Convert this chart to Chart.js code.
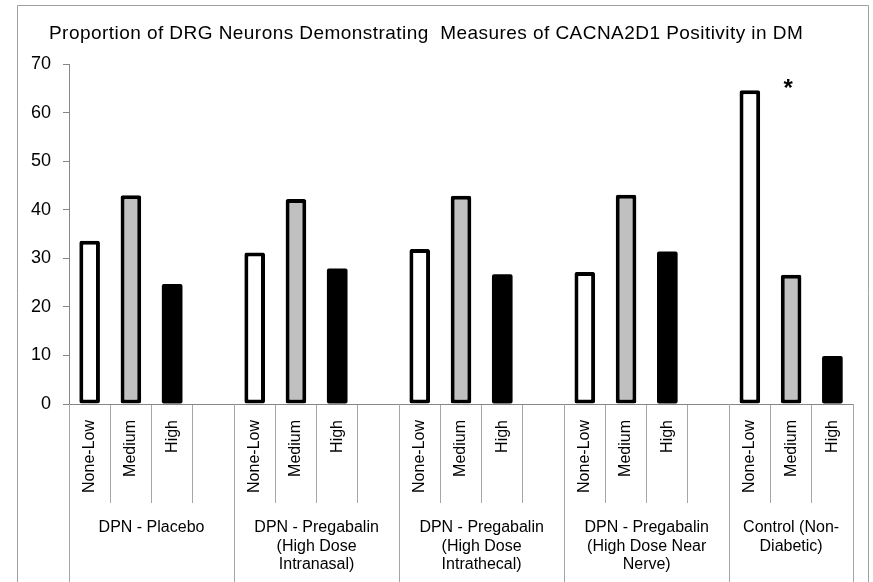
<!DOCTYPE html>
<html>
<head>
<meta charset="utf-8">
<title>CACNA2D1 positivity in DRG neurons</title>
<script src="https://cdn.jsdelivr.net/npm/chart.js@4.4.1/dist/chart.umd.min.js"></script>
<style>
  html, body { margin: 0; padding: 0; background: #fff; }
</style>
</head>
<body>
<canvas id="drgChart" width="873" height="582"></canvas>
<script>
// Treatment groups (multi-line labels under the axis)
const groups = [
    ['DPN - Placebo'],
    ['DPN - Pregabalin', '(High Dose', 'Intranasal)'],
    ['DPN - Pregabalin', '(High Dose', 'Intrathecal)'],
    ['DPN - Pregabalin', '(High Dose Near', 'Nerve)'],
    ['Control (Non-', 'Diabetic)']
];
const levels = ['None-Low', 'Medium', 'High'];

// Percent of neurons per positivity level, one entry per group
const noneLow = [33.6, 31.2, 31.9, 27.2, 64.6];
const medium = [43.0, 42.2, 42.9, 43.1, 26.6];
const high = [24.7, 27.9, 26.7, 31.4, 9.9];

const yMin = 0;
const yMax = 70;
const yStep = 10;

// significance marker: control group, medium level
const starGroup = 4;
const starLevel = 1;
const starValue = 66.3;

const titleText = 'Proportion of DRG Neurons Demonstrating  Measures of CACNA2D1 Positivity in DM';

// Each group gets one slot per level plus an empty spacer slot (none after the last group)
const slotLabels = [];
groups.forEach((g, gi) => {
    levels.forEach(l => slotLabels.push(l));
    if (gi < groups.length - 1) slotLabels.push('');
});
const slotIndex = (gi, li) => gi * (levels.length + 1) + li;

const seriesByLevel = [noneLow, medium, high];
const fills = ['#ffffff', '#c0c0c0', '#000000'];
const borders = [4, 4, 0];

const datasets = levels.map((lvl, li) => {
    const data = slotLabels.map(() => null);
    seriesByLevel[li].forEach((v, gi) => { data[slotIndex(gi, li)] = v; });
    return {
        label: lvl,
        data: data,
        backgroundColor: fills[li],
        borderColor: '#000000',
        borderWidth: borders[li],
        borderSkipped: false,
        borderRadius: 2,
        grouped: false,
        categoryPercentage: 1,
        barPercentage: 0.5
    };
});

// Frame, title, group captions, long separators and the asterisk
const decorations = {
    id: 'decorations',
    beforeDraw(chart) {
        const ctx = chart.ctx;
        ctx.save();
        ctx.fillStyle = '#ffffff';
        ctx.fillRect(0, 0, chart.width, chart.height);

        ctx.strokeStyle = '#a0a0a0';
        ctx.lineWidth = 1;
        ctx.beginPath();
        ctx.moveTo(17.5, chart.height);
        ctx.lineTo(17.5, 5.5);
        ctx.lineTo(868.5, 5.5);
        ctx.lineTo(868.5, chart.height);
        ctx.stroke();

        ctx.fillStyle = '#000000';
        ctx.font = '19px "Liberation Sans", Arial, sans-serif';
        ctx.letterSpacing = '0.45px';
        ctx.textAlign = 'left';
        ctx.textBaseline = 'alphabetic';
        ctx.fillText(titleText, 49, 39);
        ctx.restore();
    },
    afterDraw(chart) {
        const ctx = chart.ctx;
        const x = chart.scales.x;
        const y = chart.scales.y;
        const step = x.getPixelForValue(1) - x.getPixelForValue(0);

        ctx.save();
        ctx.strokeStyle = '#a6a6a6';
        ctx.lineWidth = 1;
        ctx.fillStyle = '#000000';
        ctx.font = '16px "Liberation Sans", Arial, sans-serif';
        ctx.textAlign = 'center';
        ctx.textBaseline = 'middle';

        const edges = [];
        groups.forEach((lines, gi) => {
            const first = slotIndex(gi, 0);
            const last = gi < groups.length - 1 ? first + levels.length : first + levels.length - 1;
            const left = x.getPixelForValue(first) - step / 2;
            const right = x.getPixelForValue(last) + step / 2;
            edges.push(left);
            if (gi === groups.length - 1) edges.push(right);

            const cx = (left + right) / 2;
            lines.forEach((line, k) => {
                ctx.fillText(line, cx, x.top + 124 + k * 18.5);
            });
        });

        edges.forEach(px => {
            const sx = Math.round(px) + 0.5;
            ctx.beginPath();
            ctx.moveTo(sx, x.top);
            ctx.lineTo(sx, chart.height);
            ctx.stroke();
        });

        // asterisk over the control medium bar
        ctx.font = 'bold 24px "Liberation Sans", Arial, sans-serif';
        ctx.textBaseline = 'alphabetic';
        ctx.fillText('*', x.getPixelForValue(slotIndex(starGroup, starLevel)) - 3, y.getPixelForValue(starValue) + 14);
        ctx.restore();
    }
};

Chart.defaults.font.family = '"Liberation Sans", Arial, sans-serif';
Chart.defaults.color = '#000000';

new Chart(document.getElementById('drgChart').getContext('2d'), {
    type: 'bar',
    data: { labels: slotLabels, datasets: datasets },
    options: {
        responsive: false,
        animation: false,
        devicePixelRatio: 1,
        layout: { padding: { left: 20, right: 20, top: 64, bottom: 78 } },
        plugins: {
            legend: { display: false },
            tooltip: { enabled: false },
            title: { display: false }
        },
        scales: {
            x: {
                type: 'category',
                offset: true,
                afterFit: scale => { scale.height = 100; },
                grid: {
                    offset: true,
                    drawOnChartArea: false,
                    drawTicks: true,
                    tickLength: 99,
                    color: '#a6a6a6'
                },
                border: { display: true, color: '#868686', width: 1 },
                ticks: {
                    autoSkip: false,
                    minRotation: 90,
                    maxRotation: 90,
                    padding: -83,
                    font: { size: 16 },
                    color: '#000000'
                }
            },
            y: {
                min: yMin,
                max: yMax,
                afterFit: scale => { scale.width = 49; },
                grid: {
                    drawOnChartArea: false,
                    drawTicks: true,
                    tickLength: 6,
                    color: '#868686'
                },
                border: { display: true, color: '#868686', width: 1 },
                ticks: {
                    stepSize: yStep,
                    padding: 12,
                    font: { size: 18 },
                    color: '#000000'
                }
            }
        }
    },
    plugins: [decorations]
});
</script>
</body>
</html>
